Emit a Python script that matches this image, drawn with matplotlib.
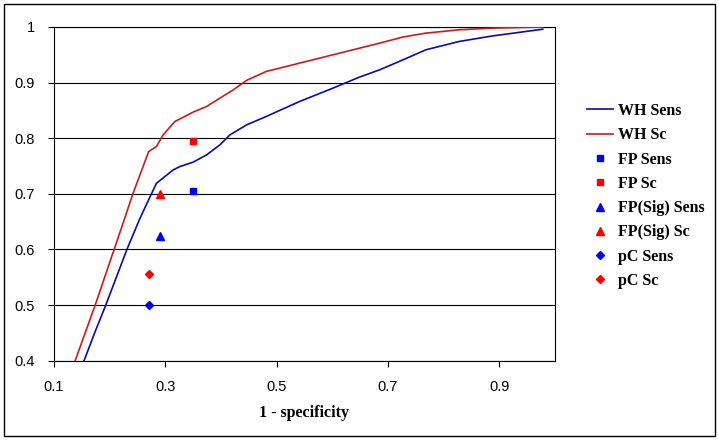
import matplotlib
matplotlib.use("Agg")
import matplotlib.pyplot as plt
from matplotlib.patches import Rectangle

# Data
wh_sens_x = [0.146, 0.154, 0.173, 0.193, 0.212, 0.231, 0.254, 0.275, 0.284, 0.314, 0.326, 0.350, 0.374,
             0.398, 0.416, 0.446, 0.481, 0.541, 0.601, 0.649, 0.685, 0.727, 0.768, 0.828, 0.888, 0.948, 0.978]
wh_sens_y = [0.38, 0.40, 0.45, 0.50, 0.55, 0.60, 0.655, 0.70, 0.719, 0.743, 0.749, 0.757, 0.770,
             0.788, 0.806, 0.824, 0.839, 0.866, 0.890, 0.910, 0.923, 0.941, 0.959, 0.974, 0.984, 0.992, 0.996]
wh_sc_x = [0.131, 0.138, 0.156, 0.174, 0.191, 0.208, 0.226, 0.242, 0.260, 0.270, 0.284, 0.296, 0.317,
           0.350, 0.374, 0.422, 0.446, 0.481, 0.541, 0.601, 0.649, 0.685, 0.727, 0.768, 0.828, 0.888, 0.978]
wh_sc_y = [0.38, 0.40, 0.45, 0.50, 0.55, 0.60, 0.653, 0.701, 0.749, 0.776, 0.785, 0.806, 0.830,
           0.847, 0.857, 0.887, 0.904, 0.920, 0.935, 0.950, 0.962, 0.971, 0.982, 0.989, 0.995, 0.998, 1.0]

fp_sens = (0.35, 0.705)
fp_sc = (0.35, 0.795)
fpsig_sens = (0.29, 0.625)
fpsig_sc = (0.29, 0.70)
pc_sens = (0.27, 0.50)
pc_sc = (0.27, 0.555)

x_ticks = [0.1, 0.3, 0.5, 0.7, 0.9]
y_ticks = [0.4, 0.5, 0.6, 0.7, 0.8, 0.9, 1.0]
y_tick_labels = ["0.4", "0.5", "0.6", "0.7", "0.8", "0.9", "1"]

W, H = 719, 440
fig = plt.figure(figsize=(W / 100, H / 100), dpi=100)
fig.patch.set_facecolor("white")
ax = fig.add_axes([54 / W, 1 - 360.7 / H, (555 - 54) / W, (360.7 - 27) / H])

navy = "#0A0AA8"
darkred = "#CC1A1A"
ax.plot(wh_sens_x, wh_sens_y, color=navy, lw=1.2, label="WH Sens", zorder=3)
ax.plot(wh_sc_x, wh_sc_y, color=darkred, lw=1.2, label="WH Sc", zorder=3)
ax.plot([fp_sens[0]], [fp_sens[1]], ls="none", marker="s", ms=5, color="#0000FF", label="FP Sens", zorder=4)
ax.plot([fp_sc[0]], [fp_sc[1]], ls="none", marker="s", ms=5, color="#FF0000", label="FP Sc", zorder=4)
ax.plot([fpsig_sens[0]], [fpsig_sens[1]], ls="none", marker="^", ms=5.5, color="#0000FF", label="FP(Sig) Sens", zorder=4)
ax.plot([fpsig_sc[0]], [fpsig_sc[1]], ls="none", marker="^", ms=5.5, color="#FF0000", label="FP(Sig) Sc", zorder=4)
ax.plot([pc_sens[0]], [pc_sens[1]], ls="none", marker="D", ms=4.2, color="#0000FF", label="pC Sens", zorder=4)
ax.plot([pc_sc[0]], [pc_sc[1]], ls="none", marker="D", ms=4.2, color="#FF0000", label="pC Sc", zorder=4)

ax.set_xlim(0.1, 1.0)
ax.set_ylim(0.4, 1.0)
ax.set_xticks(x_ticks)
ax.set_xticklabels([f"{v:.1f}" for v in x_ticks])
ax.set_yticks(y_ticks)
ax.set_yticklabels(y_tick_labels)
ax.grid(axis="y", color="black", lw=0.8)
ax.set_axisbelow(True)
for s in ax.spines.values():
    s.set_color("black")
    s.set_linewidth(0.8)
ax.tick_params(axis="both", direction="out", length=4, width=0.8, colors="black",
               labelsize=10.5)
ax.tick_params(axis="x", pad=10)
ax.tick_params(axis="y", pad=10)
for lab in ax.get_xticklabels() + ax.get_yticklabels():
    lab.set_fontfamily("Liberation Sans")

ax.set_xlabel("1 - specificity", fontfamily="Liberation Serif", fontweight="bold",
              fontsize=11.5, labelpad=8)

leg = fig.legend(loc="center left", bbox_to_anchor=(587 / W, 1 - 196 / H), frameon=False,
                 prop={"family": "Liberation Serif", "weight": "bold", "size": 11.5},
                 handlelength=1.65, handletextpad=0.3, labelspacing=0.52,
                 borderpad=0, borderaxespad=0, numpoints=1)

fig.add_artist(Rectangle((4 / W, 4 / H), 711 / W, 432 / H, transform=fig.transFigure,
                         fill=False, edgecolor="black", lw=1.0))

fig.savefig("out.png", dpi=100, facecolor="white")
